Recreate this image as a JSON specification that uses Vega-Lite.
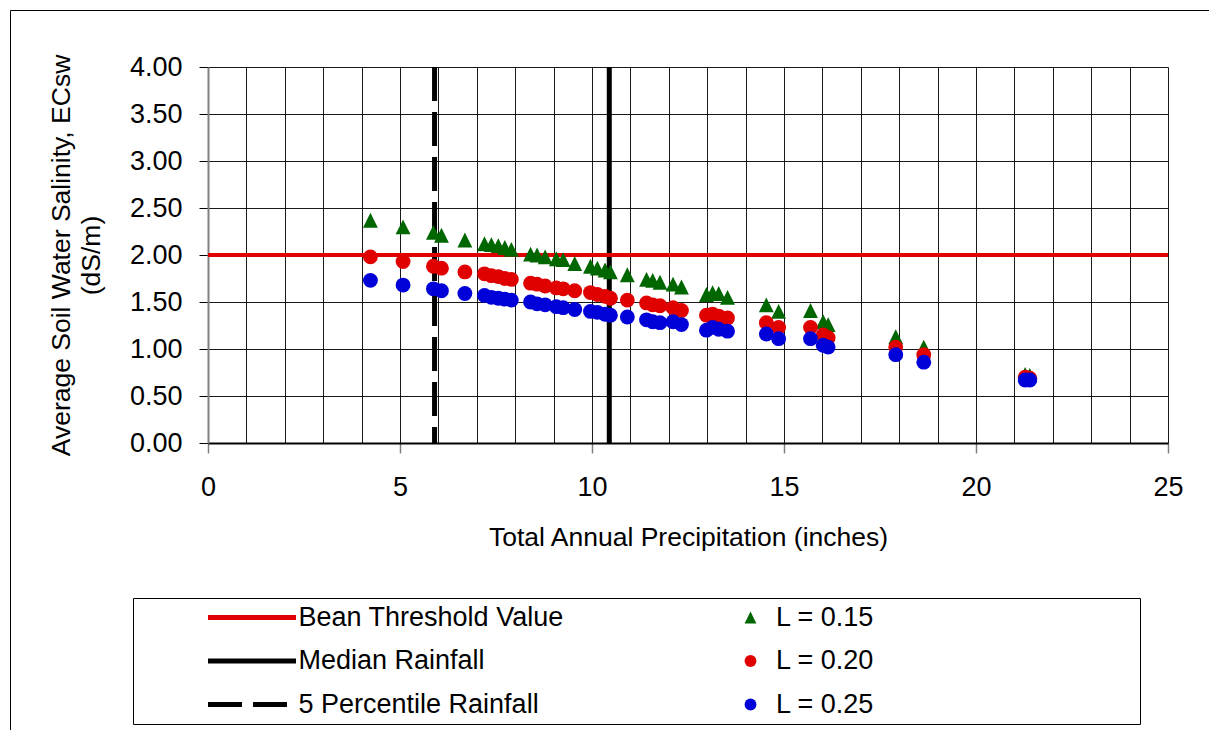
{
  "$schema": "https://vega.github.io/schema/vega-lite/v6.json",
  "width": 960,
  "height": 376,
  "autosize": {"type": "none"},
  "padding": {"left": 208, "top": 67, "right": 41, "bottom": 287},
  "background": "white",
  "config": {"view": {"stroke": null}, "font": "Liberation Sans"},
  "datasets": {
    "lines": [
      {"name": "Bean Threshold Value", "y": 2},
      {"name": "Median Rainfall", "x": 10.45},
      {"name": "5 Percentile Rainfall", "x": 5.9}
    ],
    "points": [
      {"p": 4.23, "L": "L = 0.15", "v": 2.37}, {"p": 5.08, "L": "L = 0.15", "v": 2.30}, {"p": 5.87, "L": "L = 0.15", "v": 2.24}, {"p": 6.08, "L": "L = 0.15", "v": 2.21}, {"p": 6.69, "L": "L = 0.15", "v": 2.16},
      {"p": 7.20, "L": "L = 0.15", "v": 2.12}, {"p": 7.38, "L": "L = 0.15", "v": 2.11}, {"p": 7.56, "L": "L = 0.15", "v": 2.10}, {"p": 7.73, "L": "L = 0.15", "v": 2.08}, {"p": 7.90, "L": "L = 0.15", "v": 2.06},
      {"p": 8.40, "L": "L = 0.15", "v": 2.01}, {"p": 8.57, "L": "L = 0.15", "v": 2.00}, {"p": 8.78, "L": "L = 0.15", "v": 1.98}, {"p": 9.07, "L": "L = 0.15", "v": 1.96}, {"p": 9.25, "L": "L = 0.15", "v": 1.95},
      {"p": 9.55, "L": "L = 0.15", "v": 1.91}, {"p": 9.96, "L": "L = 0.15", "v": 1.88}, {"p": 10.14, "L": "L = 0.15", "v": 1.86}, {"p": 10.34, "L": "L = 0.15", "v": 1.84}, {"p": 10.48, "L": "L = 0.15", "v": 1.82},
      {"p": 10.92, "L": "L = 0.15", "v": 1.79}, {"p": 11.42, "L": "L = 0.15", "v": 1.74}, {"p": 11.58, "L": "L = 0.15", "v": 1.73}, {"p": 11.77, "L": "L = 0.15", "v": 1.71}, {"p": 12.11, "L": "L = 0.15", "v": 1.69},
      {"p": 12.33, "L": "L = 0.15", "v": 1.66}, {"p": 12.98, "L": "L = 0.15", "v": 1.58}, {"p": 13.14, "L": "L = 0.15", "v": 1.60}, {"p": 13.30, "L": "L = 0.15", "v": 1.59}, {"p": 13.53, "L": "L = 0.15", "v": 1.55},
      {"p": 14.54, "L": "L = 0.15", "v": 1.47}, {"p": 14.86, "L": "L = 0.15", "v": 1.40}, {"p": 15.69, "L": "L = 0.15", "v": 1.41}, {"p": 16.02, "L": "L = 0.15", "v": 1.29}, {"p": 16.15, "L": "L = 0.15", "v": 1.26},
      {"p": 17.91, "L": "L = 0.15", "v": 1.13}, {"p": 18.64, "L": "L = 0.15", "v": 1.02}, {"p": 21.28, "L": "L = 0.15", "v": 0.73}, {"p": 21.40, "L": "L = 0.15", "v": 0.72},
      {"p": 4.23, "L": "L = 0.20", "v": 1.98}, {"p": 5.08, "L": "L = 0.20", "v": 1.93}, {"p": 5.87, "L": "L = 0.20", "v": 1.88}, {"p": 6.08, "L": "L = 0.20", "v": 1.86}, {"p": 6.69, "L": "L = 0.20", "v": 1.82},
      {"p": 7.20, "L": "L = 0.20", "v": 1.80}, {"p": 7.38, "L": "L = 0.20", "v": 1.78}, {"p": 7.56, "L": "L = 0.20", "v": 1.77}, {"p": 7.73, "L": "L = 0.20", "v": 1.75}, {"p": 7.90, "L": "L = 0.20", "v": 1.74},
      {"p": 8.40, "L": "L = 0.20", "v": 1.70}, {"p": 8.57, "L": "L = 0.20", "v": 1.69}, {"p": 8.78, "L": "L = 0.20", "v": 1.67}, {"p": 9.07, "L": "L = 0.20", "v": 1.65}, {"p": 9.25, "L": "L = 0.20", "v": 1.64},
      {"p": 9.55, "L": "L = 0.20", "v": 1.62}, {"p": 9.96, "L": "L = 0.20", "v": 1.60}, {"p": 10.14, "L": "L = 0.20", "v": 1.58}, {"p": 10.34, "L": "L = 0.20", "v": 1.56}, {"p": 10.48, "L": "L = 0.20", "v": 1.54},
      {"p": 10.92, "L": "L = 0.20", "v": 1.52}, {"p": 11.42, "L": "L = 0.20", "v": 1.49}, {"p": 11.58, "L": "L = 0.20", "v": 1.47}, {"p": 11.77, "L": "L = 0.20", "v": 1.46}, {"p": 12.11, "L": "L = 0.20", "v": 1.44},
      {"p": 12.33, "L": "L = 0.20", "v": 1.41}, {"p": 12.98, "L": "L = 0.20", "v": 1.36}, {"p": 13.14, "L": "L = 0.20", "v": 1.37}, {"p": 13.30, "L": "L = 0.20", "v": 1.35}, {"p": 13.53, "L": "L = 0.20", "v": 1.33},
      {"p": 14.54, "L": "L = 0.20", "v": 1.28}, {"p": 14.86, "L": "L = 0.20", "v": 1.23}, {"p": 15.69, "L": "L = 0.20", "v": 1.23}, {"p": 16.02, "L": "L = 0.20", "v": 1.15}, {"p": 16.15, "L": "L = 0.20", "v": 1.12},
      {"p": 17.91, "L": "L = 0.20", "v": 1.02}, {"p": 18.64, "L": "L = 0.20", "v": 0.94}, {"p": 21.28, "L": "L = 0.20", "v": 0.70}, {"p": 21.40, "L": "L = 0.20", "v": 0.69},
      {"p": 4.23, "L": "L = 0.25", "v": 1.73}, {"p": 5.08, "L": "L = 0.25", "v": 1.68}, {"p": 5.87, "L": "L = 0.25", "v": 1.64}, {"p": 6.08, "L": "L = 0.25", "v": 1.62}, {"p": 6.69, "L": "L = 0.25", "v": 1.59},
      {"p": 7.20, "L": "L = 0.25", "v": 1.57}, {"p": 7.38, "L": "L = 0.25", "v": 1.55}, {"p": 7.56, "L": "L = 0.25", "v": 1.54}, {"p": 7.73, "L": "L = 0.25", "v": 1.53}, {"p": 7.90, "L": "L = 0.25", "v": 1.52},
      {"p": 8.40, "L": "L = 0.25", "v": 1.50}, {"p": 8.57, "L": "L = 0.25", "v": 1.48}, {"p": 8.78, "L": "L = 0.25", "v": 1.47}, {"p": 9.07, "L": "L = 0.25", "v": 1.45}, {"p": 9.25, "L": "L = 0.25", "v": 1.44},
      {"p": 9.55, "L": "L = 0.25", "v": 1.42}, {"p": 9.96, "L": "L = 0.25", "v": 1.40}, {"p": 10.14, "L": "L = 0.25", "v": 1.39}, {"p": 10.34, "L": "L = 0.25", "v": 1.37}, {"p": 10.48, "L": "L = 0.25", "v": 1.36},
      {"p": 10.92, "L": "L = 0.25", "v": 1.34}, {"p": 11.42, "L": "L = 0.25", "v": 1.31}, {"p": 11.58, "L": "L = 0.25", "v": 1.29}, {"p": 11.77, "L": "L = 0.25", "v": 1.28}, {"p": 12.11, "L": "L = 0.25", "v": 1.29},
      {"p": 12.33, "L": "L = 0.25", "v": 1.26}, {"p": 12.98, "L": "L = 0.25", "v": 1.20}, {"p": 13.14, "L": "L = 0.25", "v": 1.23}, {"p": 13.30, "L": "L = 0.25", "v": 1.21}, {"p": 13.53, "L": "L = 0.25", "v": 1.19},
      {"p": 14.54, "L": "L = 0.25", "v": 1.16}, {"p": 14.86, "L": "L = 0.25", "v": 1.11}, {"p": 15.69, "L": "L = 0.25", "v": 1.11}, {"p": 16.02, "L": "L = 0.25", "v": 1.04}, {"p": 16.15, "L": "L = 0.25", "v": 1.02},
      {"p": 17.91, "L": "L = 0.25", "v": 0.94}, {"p": 18.64, "L": "L = 0.25", "v": 0.86}, {"p": 21.28, "L": "L = 0.25", "v": 0.67}, {"p": 21.40, "L": "L = 0.25", "v": 0.67}
    ]
  },
  "layer": [
    {
      "layer": [
        {
          "data": {"name": "lines"},
          "transform": [{"filter": "isValid(datum.x)"}],
          "mark": {"type": "rule", "strokeWidth": 5},
          "encoding": {
            "x": {"field": "x", "type": "quantitative", "scale": {"domain": [0, 25], "nice": false, "zero": false}},
            "color": {"field": "name", "type": "nominal",
              "scale": {"domain": ["Bean Threshold Value", "Median Rainfall", "5 Percentile Rainfall"], "range": ["#e00000", "#000000", "#000000"]},
              "legend": {"orient": "none", "legendX": -75, "legendY": 531, "padding": 6, "strokeColor": "#000000",
                "title": "\u00a0", "titleOrient": "right", "titlePadding": 570, "titleOpacity": 0, "titleFontSize": 10,
                "symbolType": "M-5,0H5", "symbolSize": 310, "symbolStrokeWidth": 5, "symbolOffset": 99.5, "labelOffset": 33,
                "labelFontSize": 27, "labelFont": "Liberation Sans", "labelColor": "#000000", "labelLimit": 600, "rowPadding": 15.5}},
            "strokeDash": {"field": "name", "type": "nominal",
              "scale": {"domain": ["Bean Threshold Value", "Median Rainfall", "5 Percentile Rainfall"], "range": [[1, 0], [1, 0], [34, 11]]},
              "legend": {"orient": "none", "legendX": -75, "legendY": 531, "padding": 6, "strokeColor": "#000000",
                "title": "\u00a0", "titleOrient": "right", "titlePadding": 570, "titleOpacity": 0, "titleFontSize": 10,
                "symbolType": "M-5,0H5", "symbolSize": 310, "symbolStrokeWidth": 5, "symbolOffset": 99.5, "labelOffset": 33,
                "labelFontSize": 27, "labelFont": "Liberation Sans", "labelColor": "#000000", "labelLimit": 600, "rowPadding": 15.5}}
          }
        },
        {
          "data": {"name": "lines"},
          "transform": [{"filter": "isValid(datum.y)"}],
          "mark": {"type": "rule", "strokeWidth": 4},
          "encoding": {
            "y": {"field": "y", "type": "quantitative", "scale": {"domain": [0, 4], "nice": false}},
            "color": {"field": "name", "type": "nominal",
              "scale": {"domain": ["Bean Threshold Value", "Median Rainfall", "5 Percentile Rainfall"], "range": ["#e00000", "#000000", "#000000"]},
              "legend": {"orient": "none", "legendX": -75, "legendY": 531, "padding": 6, "strokeColor": "#000000",
                "title": "\u00a0", "titleOrient": "right", "titlePadding": 570, "titleOpacity": 0, "titleFontSize": 10,
                "symbolType": "M-5,0H5", "symbolSize": 310, "symbolStrokeWidth": 5, "symbolOffset": 99.5, "labelOffset": 33,
                "labelFontSize": 27, "labelFont": "Liberation Sans", "labelColor": "#000000", "labelLimit": 600, "rowPadding": 15.5}},
            "strokeDash": {"field": "name", "type": "nominal",
              "scale": {"domain": ["Bean Threshold Value", "Median Rainfall", "5 Percentile Rainfall"], "range": [[1, 0], [1, 0], [34, 11]]},
              "legend": {"orient": "none", "legendX": -75, "legendY": 531, "padding": 6, "strokeColor": "#000000",
                "title": "\u00a0", "titleOrient": "right", "titlePadding": 570, "titleOpacity": 0, "titleFontSize": 10,
                "symbolType": "M-5,0H5", "symbolSize": 310, "symbolStrokeWidth": 5, "symbolOffset": 99.5, "labelOffset": 33,
                "labelFontSize": 27, "labelFont": "Liberation Sans", "labelColor": "#000000", "labelLimit": 600, "rowPadding": 15.5}}
          }
        }
      ]
    },
    {
      "data": {"name": "points"},
      "mark": {"type": "point", "filled": true, "opacity": 1, "size": 220, "strokeWidth": 0},
      "encoding": {
        "x": {"field": "p", "type": "quantitative", "scale": {"domain": [0, 25], "nice": false, "zero": false},
          "axis": {"title": "Total Annual Precipitation (inches)", "values": [0,1,2,3,4,5,6,7,8,9,10,11,12,13,14,15,16,17,18,19,20,21,22,23,24,25],
            "tickCount": 40, "format": "d",
            "labelExpr": "datum.value % 5 === 0 ? datum.label : ''", "labelOverlap": false, "labelFlush": false,
            "labelFontSize": 27, "labelFont": "Liberation Sans", "labelColor": "#000000", "labelPadding": 21,
            "tickSize": 10, "tickColor": "#808080", "tickWidth": 1.5,
            "tickOpacity": {"condition": {"test": "datum.value % 5 === 0", "value": 1}, "value": 0},
            "grid": true, "gridColor": "#000000", "gridWidth": 1, "gridOpacity": 0.9,
            "domainColor": "#000000", "domainWidth": 2,
            "titleFontSize": 26.5, "titleFont": "Liberation Sans", "titleFontWeight": "normal", "titleColor": "#000000", "titlePadding": 24}},
        "y": {"field": "v", "type": "quantitative", "scale": {"domain": [0, 4], "nice": false},
          "axis": {"title": ["Average Soil Water Salinity, ECsw", "(dS/m)"], "values": [0, 0.5, 1, 1.5, 2, 2.5, 3, 3.5, 4], "format": ".2f",
            "tickCount": 20,
            "labelFontSize": 27, "labelFont": "Liberation Sans", "labelColor": "#000000", "labelPadding": 17,
            "tickSize": 9, "tickColor": "#000000", "tickWidth": 1,
            "grid": true, "gridColor": "#000000", "gridWidth": 1, "gridOpacity": 0.9,
            "domainColor": "#808080", "domainWidth": 2,
            "titleFontSize": 26.5, "titleFont": "Liberation Sans", "titleFontWeight": "normal", "titleColor": "#000000", "titlePadding": 24, "titleLineHeight": 30}},
        "color": {"field": "L", "type": "nominal",
          "scale": {"domain": ["L = 0.15", "L = 0.20", "L = 0.25"], "range": ["#006600", "#e00000", "#0000d8"]},
          "legend": {"orient": "none", "legendX": -198, "legendY": -57, "padding": 338, "strokeColor": "#000000",
            "title": "\u00a0", "titleOrient": "top", "titlePadding": 246, "titleOpacity": 0, "titleFontSize": 10,
            "symbolSize": 140, "symbolStrokeWidth": 0, "symbolOffset": 389, "labelOffset": 12,
            "labelFontSize": 27, "labelFont": "Liberation Sans", "labelColor": "#000000", "rowPadding": 15.5}},
        "shape": {"field": "L", "type": "nominal",
          "scale": {"domain": ["L = 0.15", "L = 0.20", "L = 0.25"], "range": ["M0,-1L1,1L-1,1Z", "circle", "circle"]},
          "legend": {"orient": "none", "legendX": -198, "legendY": -57, "padding": 338, "strokeColor": "#000000",
            "title": "\u00a0", "titleOrient": "top", "titlePadding": 246, "titleOpacity": 0, "titleFontSize": 10,
            "symbolSize": 140, "symbolStrokeWidth": 0, "symbolOffset": 389, "labelOffset": 12,
            "labelFontSize": 27, "labelFont": "Liberation Sans", "labelColor": "#000000", "rowPadding": 15.5}}
      }
    }
  ],
  "resolve": {"scale": {"color": "independent", "shape": "independent", "strokeDash": "independent"}}
}
